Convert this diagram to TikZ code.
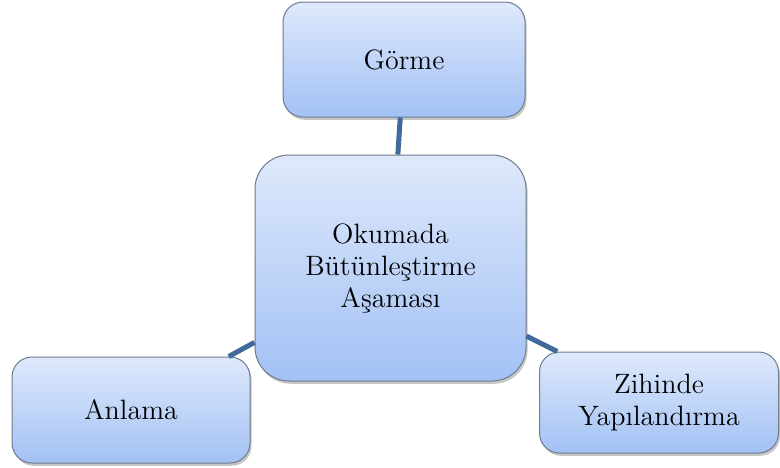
\documentclass[tikz,border=0pt]{standalone}
\usetikzlibrary{positioning,shadows}
\definecolor{BoxTop}{HTML}{DEE9FB}
\definecolor{BoxBottom}{HTML}{A3C1F5}
\definecolor{BoxEdge}{HTML}{6F7B8B}
\definecolor{LinkBlue}{HTML}{41699A}

\begin{document}
\begin{tikzpicture}[
    x=0.5pt,y=-0.5pt,
    box/.style={draw=BoxEdge,line width=0.5pt,rounded corners=10pt,top color=BoxTop,bottom color=BoxBottom,drop shadow={shadow xshift=0.8pt,shadow yshift=-1.4pt,opacity=0.45},align=center,font=\fontsize{14}{16}\selectfont,inner sep=0pt},
    bigbox/.style={box,rounded corners=17pt},
    link/.style={line width=2.5pt,draw=LinkBlue}
  ]
    \useasboundingbox (0,0) rectangle (780,467);
    \node[bigbox,minimum width=135.5pt,minimum height=113pt] (okuma) at (390.5,268) {Okumada\\Bütünleştirme\\Aşaması};
    \node[box,minimum width=121pt,minimum height=57.5pt] (gorme) at (404,59.5) {Görme};
    \node[box,minimum width=119pt,minimum height=53pt] (anlama) at (131,410) {Anlama};
    \node[box,minimum width=119.5pt,minimum height=50.5pt] (zihin) at (659,402.5) {Zihinde\\Yapılandırma};
    \draw[link] (okuma) -- (gorme);
    \draw[link] (okuma) -- (anlama);
    \draw[link] (okuma) -- (zihin);
  \end{tikzpicture}
\end{document}
